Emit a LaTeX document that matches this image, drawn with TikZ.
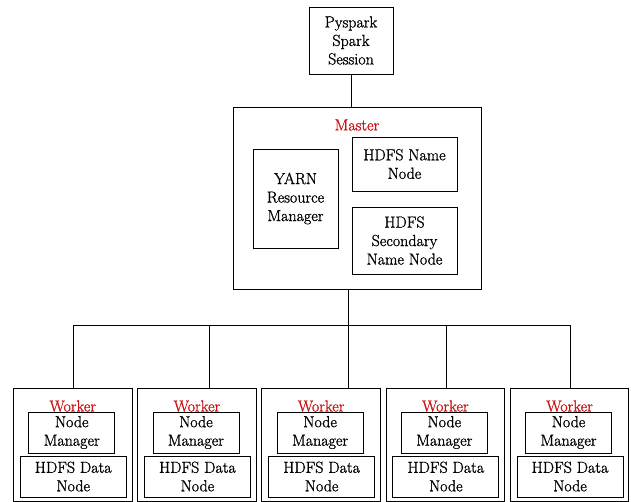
\documentclass[tikz,border=0pt]{standalone}
\usepackage{fontspec}
\setmainfont{Latin Modern Roman}[FakeBold=1.2]
\definecolor{labelred}{RGB}{204,16,16}
\begin{document}
\begin{tikzpicture}[x=1pt,y=-1pt,
  box/.style={draw, line width=0.9pt, align=center, inner sep=0pt,
    font=\rmfamily\fontsize{16}{18.5}\selectfont},
  link/.style={line width=0.9pt},
  tag/.style={text=labelred, inner sep=0pt, font=\rmfamily\fontsize{16}{18.5}\selectfont}]
\useasboundingbox (0,0) rectangle (631,502);

% client session
\node[box, minimum width=84pt, minimum height=67pt] (spark) at (351,40.5)
  {Pyspark\\Spark\\Session};

% master node and its services
\node[box, minimum width=248pt, minimum height=182pt] (master) at (357,198) {};
\node[tag] (mlabel) at (357,125) {Master};
\node[box, minimum width=85pt, minimum height=99pt] (yarn) at (295.5,198.5)
  {YARN\\Resource\\Manager};
\node[box, minimum width=105pt, minimum height=54pt] (nn) at (404.5,164)
  {HDFS Name\\Node};
\node[box, minimum width=105pt, minimum height=67pt] (snn) at (404.5,240.5)
  {HDFS\\Secondary\\Name Node};

\draw[link] (spark.south) -- (spark.south |- master.north);

% bus from the master to the workers
\coordinate (hub) at (348,325);
\draw[link] (master.south -| hub) -- (hub);

% worker nodes
\foreach \i/\dx in {0/73,1/209,2/348,3/446,4/570} {
  \pgfmathsetmacro{\cx}{72.75+124.2*\i}
  \node[box, minimum width=118.5pt, minimum height=113pt] (w\i) at (\cx,444.5) {};
  \node[tag, anchor=base] (wl\i) at (\cx,411.5) {Worker};
  \node[box, minimum width=86pt, minimum height=41pt] (nm\i) at (\cx-1,432.5)
    {Node\\Manager};
  \node[box, minimum width=106pt, minimum height=41pt] (dn\i) at (\cx+0.5,476.5)
    {HDFS Data\\Node};
  \coordinate (d\i) at (\dx,325);
  \draw[link] (d\i) -- (d\i |- w\i.north);
}
\draw[link] (d0) -- (d4);
\end{tikzpicture}
\end{document}
